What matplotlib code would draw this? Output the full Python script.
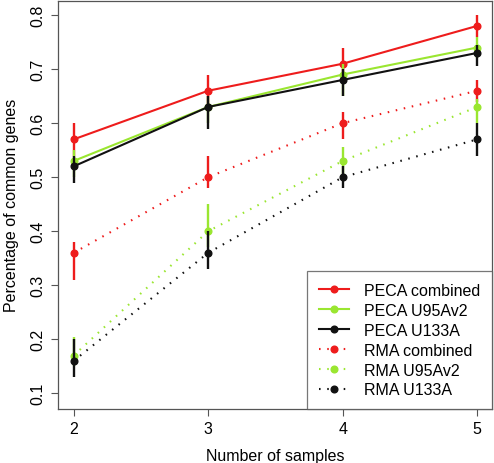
import matplotlib
matplotlib.use("Agg")
import matplotlib.pyplot as plt
from matplotlib.lines import Line2D

samples = [2, 3, 4, 5]

peca_combined = [0.57, 0.66, 0.71, 0.78]
peca_combined_lo = [0.54, 0.63, 0.68, 0.76]
peca_combined_hi = [0.60, 0.69, 0.74, 0.80]

peca_u95 = [0.53, 0.63, 0.69, 0.74]
peca_u95_lo = [0.50, 0.60, 0.65, 0.72]
peca_u95_hi = [0.55, 0.65, 0.71, 0.76]

peca_u133 = [0.52, 0.63, 0.68, 0.73]
peca_u133_lo = [0.49, 0.59, 0.65, 0.705]
peca_u133_hi = [0.54, 0.65, 0.70, 0.745]

rma_combined = [0.36, 0.50, 0.60, 0.66]
rma_combined_lo = [0.31, 0.48, 0.57, 0.64]
rma_combined_hi = [0.38, 0.54, 0.62, 0.68]

rma_u95 = [0.17, 0.40, 0.53, 0.63]
rma_u95_lo = [0.15, 0.37, 0.50, 0.60]
rma_u95_hi = [0.205, 0.45, 0.555, 0.645]

rma_u133 = [0.16, 0.36, 0.50, 0.57]
rma_u133_lo = [0.13, 0.33, 0.48, 0.54]
rma_u133_hi = [0.20, 0.40, 0.52, 0.60]

labels = ["PECA combined", "PECA U95Av2", "PECA U133A",
          "RMA combined", "RMA U95Av2", "RMA U133A"]

RED = "#EE1C1C"
GREEN = "#9AE630"
BLACK = "#111111"

plt.rcParams['font.family'] = ['Liberation Sans', 'DejaVu Sans']

FS = 11.5

fig = plt.figure(figsize=(4.94, 4.64), dpi=100)
ax = fig.add_axes([57.5/494, 1 - 410/464, (492 - 57.5)/494, (410 - 1.5)/464])

series = [
    (peca_combined, peca_combined_lo, peca_combined_hi, RED, '-'),
    (peca_u95, peca_u95_lo, peca_u95_hi, GREEN, '-'),
    (peca_u133, peca_u133_lo, peca_u133_hi, BLACK, '-'),
    (rma_combined, rma_combined_lo, rma_combined_hi, RED, ':'),
    (rma_u95, rma_u95_lo, rma_u95_hi, GREEN, ':'),
    (rma_u133, rma_u133_lo, rma_u133_hi, BLACK, ':'),
]

handles = []
for (vals, lo, hi, col, ls), lab in zip(series, labels):
    ax.vlines(samples, lo, hi, colors=col, lw=1.7)
    kw = dict(color=col, lw=1.5, marker='o', ms=4.8, mfc=col, mec=col)
    if ls == ':':
        kw['dashes'] = (0.75, 3.2)
    ax.plot(samples, vals, **kw)
    handles.append(Line2D([0], [0], **kw))

ax.set_xlim(1.88, 5.11)
ax.set_ylim(0.071, 0.827)
ax.set_xticks(samples)
ax.set_yticks([0.1, 0.2, 0.3, 0.4, 0.5, 0.6, 0.7, 0.8])
ax.set_yticklabels(["0.1", "0.2", "0.3", "0.4", "0.5", "0.6", "0.7", "0.8"],
                   rotation=90, va='center')
ax.tick_params(direction='out', length=5, width=0.8, colors='#555555',
               labelcolor='black', labelsize=FS, pad=4)
for s in ax.spines.values():
    s.set_color('#555555')
    s.set_linewidth(0.9)

ax.set_xlabel("Number of samples", fontsize=FS, labelpad=8)
ax.set_ylabel("Percentage of common genes", fontsize=FS, labelpad=8)

leg = ax.legend(handles, labels, loc='lower right', fontsize=FS,
                frameon=True, fancybox=False, borderaxespad=0,
                handlelength=1.9, labelspacing=0.31, handletextpad=0.95,
                borderpad=0.72)
leg.get_frame().set_edgecolor('#555555')
leg.get_frame().set_linewidth(0.9)

fig.savefig("out.png", dpi=100)
